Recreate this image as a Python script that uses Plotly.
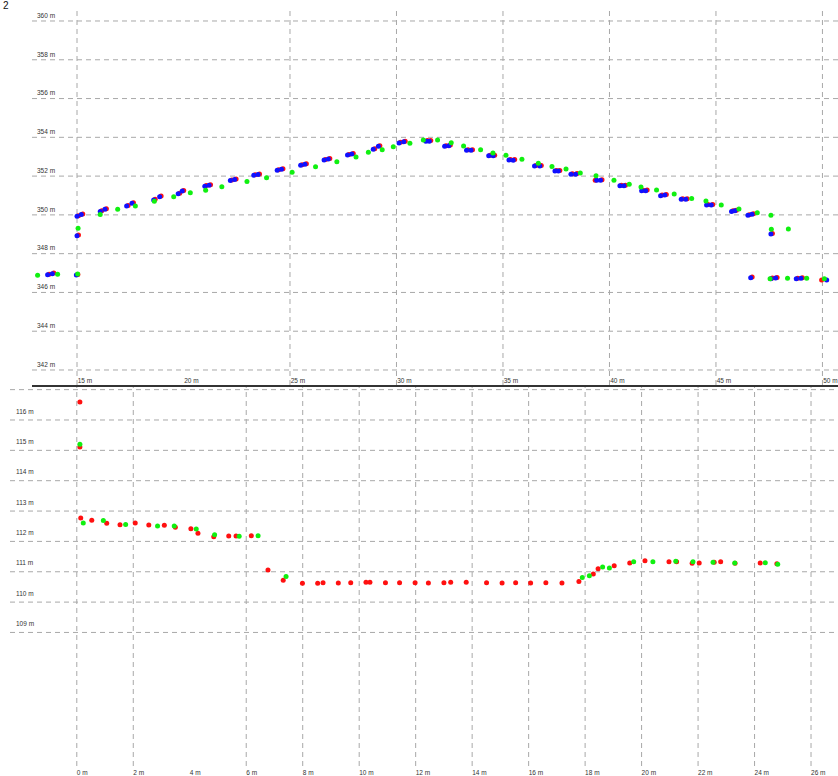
import plotly.graph_objects as go

# ---------------- data: upper profile ----------------
top_blue_x = [13.62, 13.84, 14.97, 15.00, 15.00, 15.20, 16.09, 16.31, 17.33, 17.58,
              18.60, 18.88, 19.75, 19.94, 21.00, 21.20, 22.20, 22.40, 23.30, 23.50,
              24.40, 24.60, 25.50, 25.70, 26.60, 26.80, 27.70, 27.90, 28.91, 29.15,
              30.12, 30.34, 31.38, 31.54, 32.26, 32.46, 33.29, 33.50, 34.33, 34.54,
              35.28, 35.48, 36.48, 36.73, 37.44, 37.60, 38.19, 38.41, 39.40, 39.58,
              40.49, 40.68, 41.51, 41.70, 42.40, 42.60, 43.37, 43.58, 44.56, 44.78,
              45.73, 45.89, 46.50, 46.69, 47.58, 46.63, 47.58, 47.80, 48.77, 48.99,
              50.20]
top_blue_y = [346.91, 346.97, 346.90, 348.93, 349.93, 350.02, 350.18, 350.29, 350.46, 350.60,
              350.77, 350.94, 351.09, 351.23, 351.48, 351.53, 351.77, 351.82, 352.04, 352.08,
              352.30, 352.35, 352.56, 352.61, 352.83, 352.88, 353.09, 353.14, 353.38, 353.54,
              353.71, 353.77, 353.80, 353.80, 353.54, 353.57, 353.33, 353.33, 353.05, 353.05,
              352.83, 352.82, 352.52, 352.52, 352.26, 352.26, 352.09, 352.10, 351.78, 351.78,
              351.50, 351.50, 351.24, 351.25, 350.99, 351.02, 350.80, 350.80, 350.51, 350.51,
              350.18, 350.21, 349.98, 350.03, 349.01, 346.76, 346.71, 346.74, 346.70, 346.73,
              346.64]
top_red_x = [13.69, 13.91, 15.04, 15.07, 15.07, 15.27, 16.16, 16.38, 17.40, 17.65,
             18.67, 18.95, 19.82, 20.01, 21.07, 21.27, 22.27, 22.47, 23.37, 23.57,
             24.47, 24.67, 25.57, 25.77, 26.67, 26.87, 27.77, 27.97, 28.98, 29.22,
             30.19, 30.41, 31.45, 31.61, 32.33, 32.53, 33.36, 33.57, 34.40, 34.61,
             35.35, 35.55, 36.55, 36.80, 37.51, 37.67, 38.26, 38.48, 39.33, 39.65,
             40.56, 40.75, 41.58, 41.77, 42.47, 42.67, 43.44, 43.65, 44.63, 44.85,
             45.80, 45.96, 46.57, 46.76, 47.65, 46.70, 47.65, 47.87, 48.84, 49.06,
             49.96]
top_red_y = [346.94, 347.00, 346.93, 348.96, 349.96, 350.05, 350.21, 350.32, 350.49, 350.63,
             350.80, 350.97, 351.12, 351.26, 351.51, 351.56, 351.80, 351.85, 352.07, 352.11,
             352.33, 352.38, 352.59, 352.64, 352.86, 352.91, 353.12, 353.17, 353.41, 353.57,
             353.74, 353.80, 353.83, 353.83, 353.57, 353.60, 353.36, 353.36, 353.08, 353.08,
             352.86, 352.85, 352.55, 352.55, 352.29, 352.29, 352.12, 352.13, 351.78, 351.81,
             351.53, 351.53, 351.27, 351.28, 351.02, 351.05, 350.83, 350.83, 350.54, 350.54,
             350.21, 350.24, 350.01, 350.06, 349.04, 346.79, 346.74, 346.77, 346.73, 346.76,
             346.64]
top_green_x = [13.15, 14.09, 15.03, 15.05, 16.09, 16.91, 17.74, 18.63, 19.54, 20.32,
               21.04, 21.80, 22.98, 23.90, 25.10, 26.20, 27.20, 28.10, 28.68, 29.33,
               29.85, 30.63, 31.26, 31.93, 32.57, 33.15, 33.95, 34.53, 35.14, 35.89,
               36.66, 37.30, 37.96, 38.63, 39.37, 40.21, 40.93, 41.48, 42.21, 43.04,
               43.86, 44.53, 45.25, 46.08, 46.94, 47.58, 47.60, 48.40, 47.54, 48.36,
               49.26, 50.09]
top_green_y = [346.88, 346.94, 346.95, 349.31, 350.02, 350.29, 350.46, 350.70, 350.94, 351.14,
               351.27, 351.45, 351.72, 351.92, 352.20, 352.48, 352.74, 352.98, 353.23, 353.36,
               353.52, 353.69, 353.86, 353.86, 353.72, 353.55, 353.36, 353.19, 353.07, 352.87,
               352.66, 352.50, 352.37, 352.16, 352.02, 351.78, 351.58, 351.44, 351.28, 351.08,
               350.85, 350.72, 350.51, 350.30, 350.11, 349.98, 349.26, 349.27, 346.71, 346.73,
               346.73, 346.70]

top_x_ticks = [15, 20, 25, 30, 35, 40, 45, 50]
top_x_labels = ["15 m", "20 m", "25 m", "30 m", "35 m", "40 m", "45 m", "50 m"]
top_x_grid = [15, 25, 30, 35, 40, 45, 50]
top_y_ticks = [342, 344, 346, 348, 350, 352, 354, 356, 358, 360]
top_y_labels = ["342 m", "344 m", "346 m", "348 m", "350 m", "352 m", "354 m", "356 m", "358 m", "360 m"]

# ---------------- data: lower profile ----------------
bot_red_x = [0.11, 0.11, 0.14, 0.53, 1.06, 1.53, 2.07, 2.55, 3.10, 3.49,
             4.04, 4.29, 4.85, 5.38, 5.64, 6.18, 6.77, 7.31, 7.99, 8.53,
             8.72, 9.26, 9.70, 10.24, 10.38, 10.93, 11.43, 11.98, 12.45, 13.00,
             13.24, 13.79, 14.51, 15.06, 15.54, 16.07, 16.61, 17.18, 17.78, 18.29,
             18.46, 19.03, 19.58, 20.12, 20.97, 21.24, 21.79, 22.04, 22.57, 22.80,
             23.31, 24.20, 24.79]
bot_red_y = [116.59, 115.11, 112.77, 112.70, 112.60, 112.55, 112.61, 112.54, 112.53, 112.47,
             112.42, 112.27, 112.15, 112.18, 112.18, 112.19, 111.06, 110.72, 110.62, 110.62,
             110.64, 110.63, 110.64, 110.65, 110.65, 110.64, 110.64, 110.64, 110.63, 110.64,
             110.65, 110.65, 110.64, 110.63, 110.64, 110.63, 110.64, 110.63, 110.68, 110.93,
             111.10, 111.20, 111.29, 111.36, 111.33, 111.33, 111.28, 111.29, 111.31, 111.33,
             111.28, 111.29, 111.26]
bot_green_x = [0.11, 0.23, 0.94, 1.73, 2.86, 3.45, 4.23, 4.88, 5.75, 6.42,
               7.41, 17.90, 18.15, 18.62, 18.86, 19.72, 20.40, 21.21, 21.82, 22.53,
               23.30, 24.38, 24.82]
bot_green_y = [115.20, 112.61, 112.69, 112.56, 112.51, 112.51, 112.41, 112.22, 112.17, 112.19,
               110.84, 110.81, 110.87, 111.16, 111.12, 111.33, 111.33, 111.35, 111.33, 111.31,
               111.29, 111.30, 111.25]

bot_x_ticks = [0, 2, 4, 6, 8, 10, 12, 14, 16, 18, 20, 22, 24, 26]
bot_x_labels = ["0 m", "2 m", "4 m", "6 m", "8 m", "10 m", "12 m", "14 m", "16 m", "18 m",
                "20 m", "22 m", "24 m", "26 m"]
bot_x_grid = [0, 2, 6, 8, 10, 12, 14, 16, 18, 20, 22, 24, 26]
bot_y_ticks = [109, 110, 111, 112, 113, 114, 115, 116]
bot_y_labels = ["109 m", "110 m", "111 m", "112 m", "113 m", "114 m", "115 m", "116 m"]
bot_y_grid = [109, 110, 111, 112, 113, 114, 115, 116, 117]

corner_text = "2"

# ---------------- figure ----------------
W, H = 838, 776
RED, BLUE, GREEN = "#ff1010", "#1010ff", "#10f010"
MS = 5

fig = go.Figure()


def dots(x, y, color, xa, ya):
    fig.add_trace(go.Scatter(x=x, y=y, mode="markers", xaxis=xa, yaxis=ya,
                             marker=dict(color=color, size=MS, line=dict(width=0)),
                             hoverinfo="skip", showlegend=False))


dots(top_red_x, top_red_y, RED, "x", "y")
dots(top_blue_x, top_blue_y, BLUE, "x", "y")
dots(top_green_x, top_green_y, GREEN, "x", "y")
dots(bot_red_x, bot_red_y, RED, "x2", "y2")
dots(bot_green_x, bot_green_y, GREEN, "x2", "y2")

GRID = dict(color="#a8a8a8", width=1, dash="5px,4px")
shapes = []
for v in top_y_ticks:
    shapes.append(dict(type="line", layer="below", xref="x domain", yref="y",
                       x0=0, x1=1, y0=v, y1=v, line=GRID))
for m in top_x_grid:
    shapes.append(dict(type="line", layer="below", xref="x", yref="y domain",
                       x0=m, x1=m, y0=0, y1=1, line=GRID))
for v in bot_y_grid:
    shapes.append(dict(type="line", layer="below", xref="x2 domain", yref="y2",
                       x0=0, x1=1, y0=v, y1=v, line=GRID))
for m in bot_x_grid:
    shapes.append(dict(type="line", layer="below", xref="x2", yref="y2 domain",
                       x0=m, x1=m, y0=0, y1=1, line=GRID))

TICKFONT = dict(family="Liberation Sans", size=6.5, color="#333333")

fig.update_layout(
    width=W, height=H,
    margin=dict(l=0, r=0, t=0, b=0),
    paper_bgcolor="white", plot_bgcolor="white",
    shapes=shapes,
    annotations=[dict(text=corner_text, xref="paper", yref="paper", x=0, y=1,
                      xanchor="left", yanchor="top", xshift=1, yshift=2, showarrow=False,
                      font=dict(family="Liberation Sans", size=10, color="#111111"))],
    xaxis=dict(domain=[32 / W, 1], range=[12.887, 50.73], anchor="y",
               tickvals=top_x_ticks, ticktext=top_x_labels,
               ticklabelposition="inside right", ticklabeloverflow="allow",
               ticklabelstandoff=-4,
               ticks="", showgrid=False, zeroline=False,
               showline=True, linecolor="#333333", linewidth=1.5,
               tickfont=TICKFONT, fixedrange=True),
    yaxis=dict(domain=[1 - 385 / H, 1 - 8 / H], range=[341.226, 360.67], anchor="x",
               tickvals=top_y_ticks, ticktext=top_y_labels,
               ticklabelposition="inside top", ticklabelshift=-1, ticklabelstandoff=2,
               ticks="", showgrid=False,
               zeroline=False, showline=False, tickfont=TICKFONT, fixedrange=True),
    xaxis2=dict(domain=[10 / W, 1], range=[-2.365, 26.955], anchor="y2",
                tickvals=bot_x_ticks, ticktext=bot_x_labels,
                ticklabelposition="outside right", ticklabelstandoff=1,
                ticks="", showgrid=False,
                zeroline=False, showline=False, tickfont=TICKFONT, fixedrange=True),
    yaxis2=dict(domain=[1 - 766 / H, 1 - 386 / H], range=[104.60, 117.12], anchor="x2",
                tickvals=bot_y_ticks, ticktext=bot_y_labels,
                ticklabelposition="inside top", ticklabelshift=-4, ticklabelstandoff=3,
                ticks="", showgrid=False,
                zeroline=False, showline=False, tickfont=TICKFONT, fixedrange=True),
)

fig.write_html("out.html", config={"displayModeBar": False, "staticPlot": True},
               post_script="document.body.style.margin='0';document.body.style.overflow='hidden';")
